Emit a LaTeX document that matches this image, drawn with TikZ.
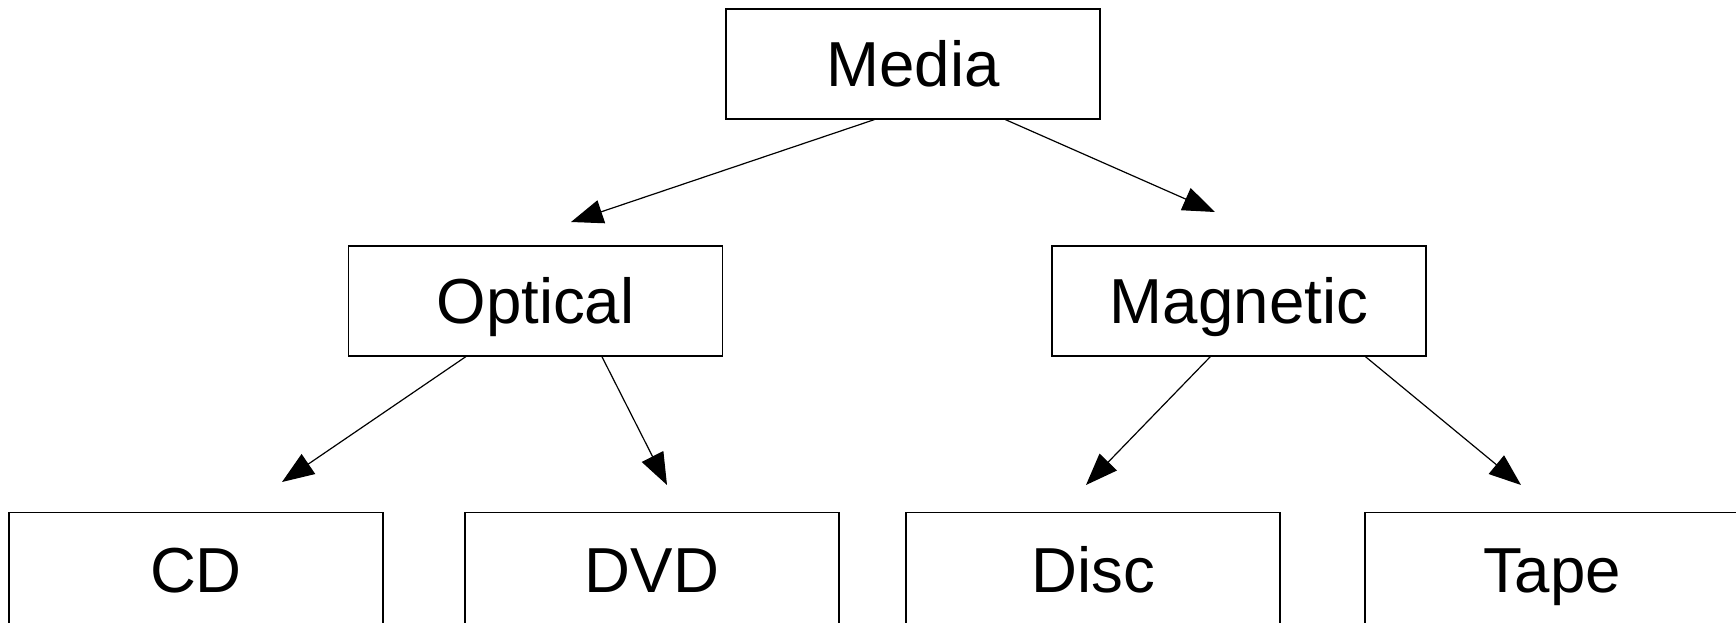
\documentclass[tikz,border=0pt]{standalone}
\usepackage{fontspec}
\setmainfont{Liberation Sans}
\usetikzlibrary{arrows.meta,calc}
\begin{document}
\begin{tikzpicture}[x=0.5pt,y=-0.5pt,
  box/.style={draw,line width=0.6pt,minimum width=187pt,minimum height=55pt,inner sep=0pt,text height=22.6pt,text depth=0pt,font=\fontsize{31.8pt}{36pt}\selectfont},
  lowbox/.style={box,minimum height=57pt,anchor=north},
  arr/.style={line width=0.6pt,-{Triangle[length=16pt,width=12pt]}}]
\useasboundingbox (0,0) rectangle (1736,622);
\node[box] (media) at (913,64) {Media};
\node[box] (optical) at (535.5,301) {Optical};
\node[box] (magnetic) at (1239,301) {Magnetic};
\node[lowbox] (cd) at (196,512) {CD};
\node[lowbox] (dvd) at (652,512) {DVD};
\node[lowbox] (disc) at (1093,512) {Disc};
\node[lowbox] (tape) at (1552,512) {Tape};
\coordinate (t1) at (571,222);
\coordinate (t2) at (1215,212);
\coordinate (t3) at (282,482);
\coordinate (t4) at (667,485);
\coordinate (t5) at (1086,485);
\coordinate (t6) at (1521,485);
\draw[arr] ($(media.south west)+(149,0)$) -- (t1);
\draw[arr] ($(media.south west)+(280,0)$) -- (t2);
\draw[arr] ($(optical.south west)+(118,0)$) -- (t3);
\draw[arr] ($(optical.south west)+(254,0)$) -- (t4);
\draw[arr] ($(magnetic.south west)+(159,0)$) -- (t5);
\draw[arr] ($(magnetic.south west)+(314,0)$) -- (t6);
\end{tikzpicture}
\end{document}
